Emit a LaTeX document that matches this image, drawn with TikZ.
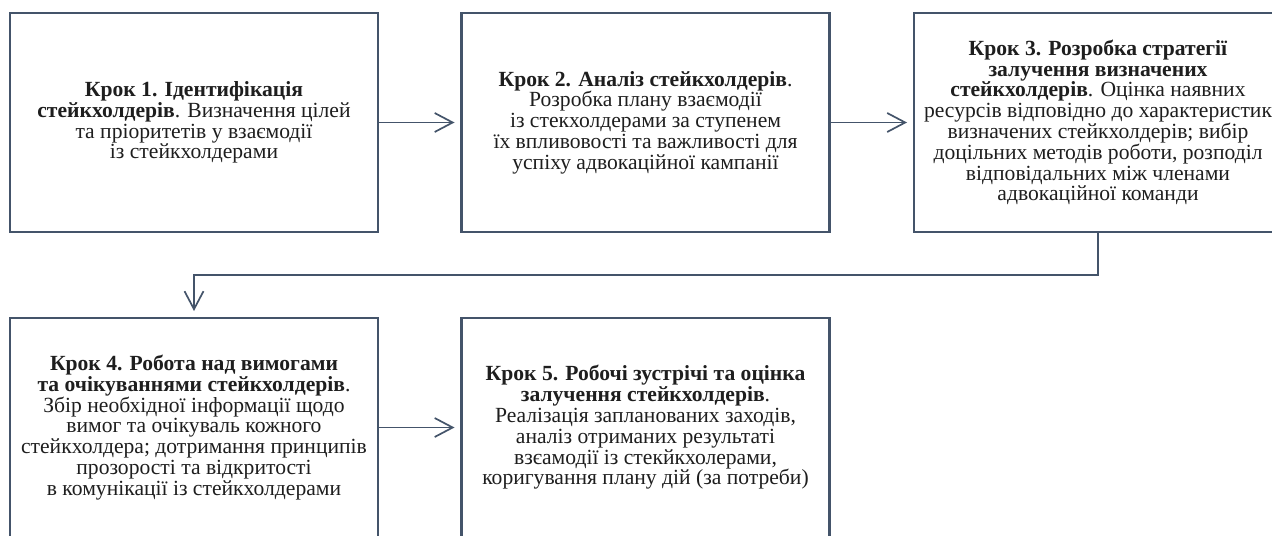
\documentclass[tikz,border=0pt]{standalone}
\usepackage{fontspec}
\setmainfont{Liberation Serif}
\usetikzlibrary{arrows.meta, positioning, calc}
\definecolor{sline}{RGB}{68,84,106}
\definecolor{stext}{RGB}{30,30,30}

\tikzset{
  stepbox/.style={draw=sline, line width=1.4pt, fill=white, minimum width=184pt,
    minimum height=109.5pt, inner sep=0pt, outer sep=0pt, align=center, text=stext,
    font=\fontsize{10.8}{10.4}\selectfont},
  link/.style={sline, line width=0.85pt, shorten >=3.5pt,
    -{Straight Barb[length=9pt, width=9.5pt, line width=0.85pt]}}
}

\begin{document}
\begin{tikzpicture}[x=0.5pt, y=-0.5pt]
  % Frame
  \path[use as bounding box] (0,0) rectangle (1272,535);
  \clip (0,0) rectangle (1272,535);

  % Steps, first row
  \node[stepbox] (s1) at (194,122.5) {\textbf{Крок 1. Ідентифікація}\\
    \textbf{стейкхолдерів}. Визначення цілей\\
    та пріоритетів у взаємодії\\
    із стейкхолдерами};
  \node[stepbox] (s2) at (645.5,122.5) {\textbf{Крок 2. Аналіз стейкхолдерів}.\\
    Розробка плану взаємодії\\
    із стекхолдерами за ступенем\\
    їх впливовості та важливості для\\
    успіху адвокаційної кампанії};
  \node[stepbox] (s3) at (1098,122.5) {\textbf{Крок 3. Розробка стратегії}\\
    \textbf{залучення визначених}\\
    \textbf{стейкхолдерів}. Оцінка наявних\\
    ресурсів відповідно до характеристик\\
    визначених стейкхолдерів; вибір\\
    доцільних методів роботи, розподіл\\
    відповідальних між членами\\
    адвокаційної команди};

  % Steps, second row
  \node[stepbox] (s4) at (194,427.5) {\textbf{Крок 4. Робота над вимогами}\\
    \textbf{та очікуваннями стейкхолдерів}.\\
    Збір необхідної інформації щодо\\
    вимог та очікуваль кожного\\
    стейкхолдера; дотримання принципів\\
    прозорості та відкритості\\
    в комунікації із стейкхолдерами};
  \node[stepbox] (s5) at (645.5,427.5) {\textbf{Крок 5. Робочі зустрічі та оцінка}\\
    \textbf{залучення стейкхолдерів}.\\
    Реалізація запланованих заходів,\\
    аналіз отриманих результаті\\
    взєамодії із стекйкхолерами,\\
    коригування плану дій (за потреби)};

  % Connectors
  \foreach \a/\b in {s1/s2, s2/s3, s4/s5}
    \draw[link] (\a.east) -- (\b.west);
  \coordinate (turn) at ($(s3.south)!0.5!(s4.north)$);
  \draw[link] (s3.south) |- (turn) -| (s4.north);
\end{tikzpicture}
\end{document}
